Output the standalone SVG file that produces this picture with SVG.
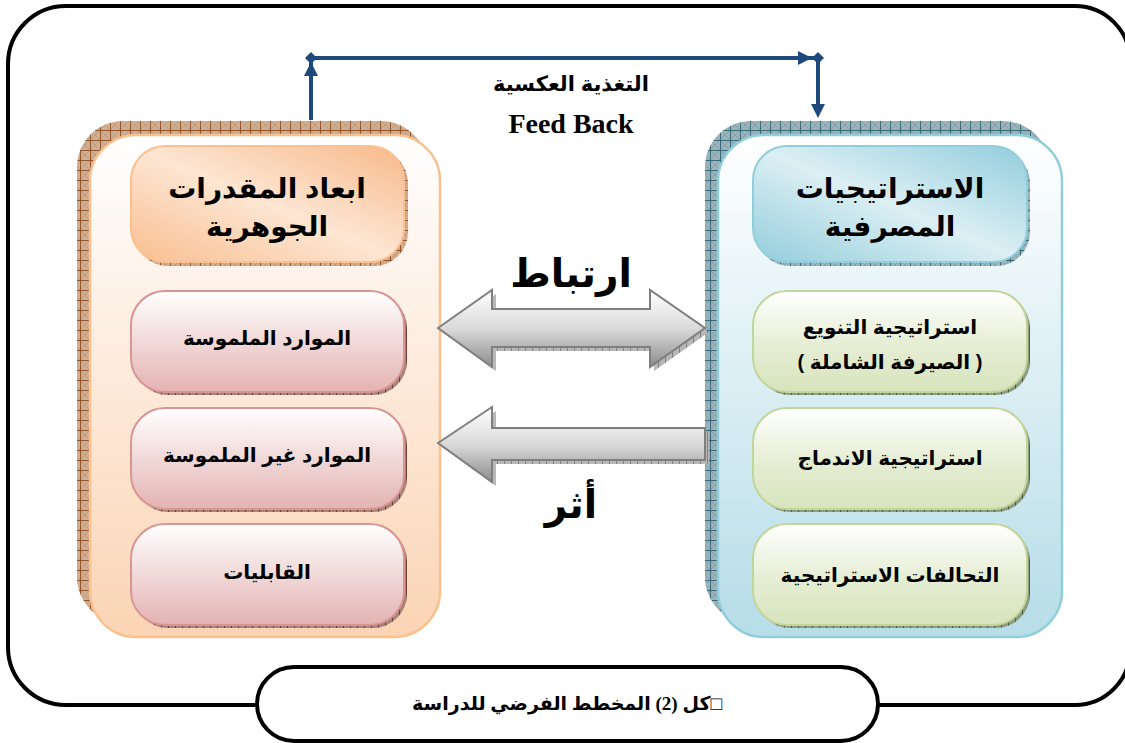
<svg xmlns="http://www.w3.org/2000/svg" width="1125" height="743" viewBox="0 0 1125 743">
  <style>
    .frame { fill: none; stroke: #000; stroke-width: 4; }
    .ar { font-family: "Liberation Sans", "DejaVu Sans", sans-serif; font-weight: bold; fill: #000; text-anchor: middle; direction: rtl; }
    .head { font-size: 28px; }
    .item { font-size: 20px; }
    .big { font-size: 39px; }
    .fb { font-size: 21px; }
    .en { font-family: "Liberation Serif", serif; font-weight: bold; font-size: 28px; text-anchor: middle; }
    .cap { font-family: "Liberation Serif", "DejaVu Sans", serif; font-weight: bold; font-size: 19px; text-anchor: middle; direction: rtl; }
    .blue { stroke: #1F497D; stroke-width: 4; fill: none; }
    .bluefill { fill: #1F497D; }
    .pink { fill: url(#gPink); stroke: #D99594; stroke-width: 2; }
    .green { fill: url(#gGreen); stroke: #C2D69B; stroke-width: 2; }
    .arrow { fill: url(#gArrow); stroke: #7F7F7F; stroke-width: 2; stroke-linejoin: miter; }
  </style>
  <defs>
    <!-- hatched shadow fills -->
    <pattern id="hatchBrown" width="10" height="10" patternUnits="userSpaceOnUse">
      <rect width="10" height="10" fill="#D0AE92"/>
      <path d="M0 0L10 10M10 0L0 10" stroke="#BA9478" stroke-width="0.7"/>
      <path d="M0 0.5H10M0.5 0V10" stroke="#93552A" stroke-width="1"/>
    </pattern>
    <pattern id="hatchBlue" width="10" height="10" patternUnits="userSpaceOnUse">
      <rect width="10" height="10" fill="#9BB3BA"/>
      <path d="M0 0L10 10M10 0L0 10" stroke="#7D99A1" stroke-width="0.7"/>
      <path d="M0 0.5H10M0.5 0V10" stroke="#3A6977" stroke-width="1"/>
    </pattern>
    <pattern id="hatchPink" width="7" height="7" patternUnits="userSpaceOnUse">
      <rect width="7" height="7" fill="#A98278"/>
      <path d="M0.5 0V7" stroke="#6B4036" stroke-width="1"/>
    </pattern>
    <pattern id="hatchGreen" width="7" height="7" patternUnits="userSpaceOnUse">
      <rect width="7" height="7" fill="#8D9B80"/>
      <path d="M0.5 0V7" stroke="#4E5E44" stroke-width="1"/>
    </pattern>
    <pattern id="hatchGray" width="7" height="7" patternUnits="userSpaceOnUse">
      <rect width="7" height="7" fill="#B8B8B8"/>
      <path d="M0.5 0V7" stroke="#808080" stroke-width="1"/>
    </pattern>
    <linearGradient id="gPeach" x1="0" y1="0" x2="0" y2="1">
      <stop offset="0" stop-color="#FFFFFF"/>
      <stop offset="1" stop-color="#FBD4B4"/>
    </linearGradient>
    <linearGradient id="gSky" x1="0" y1="0" x2="0" y2="1">
      <stop offset="0" stop-color="#FFFFFF"/>
      <stop offset="1" stop-color="#B6DDE8"/>
    </linearGradient>
    <linearGradient id="gOrange" x1="0" y1="1" x2="1" y2="0">
      <stop offset="0" stop-color="#F9BE8F"/>
      <stop offset="0.5" stop-color="#FDE6D3"/>
      <stop offset="1" stop-color="#F7B98A"/>
    </linearGradient>
    <linearGradient id="gTeal" x1="0" y1="1" x2="1" y2="0">
      <stop offset="0" stop-color="#92CDDC"/>
      <stop offset="0.5" stop-color="#DCEFF4"/>
      <stop offset="1" stop-color="#92CDDC"/>
    </linearGradient>
    <linearGradient id="gPink" x1="0" y1="0" x2="0" y2="1">
      <stop offset="0" stop-color="#FFFFFF"/>
      <stop offset="1" stop-color="#E3B3B2"/>
    </linearGradient>
    <linearGradient id="gGreen" x1="0" y1="0" x2="0" y2="1">
      <stop offset="0" stop-color="#FFFFFF"/>
      <stop offset="0.55" stop-color="#E5EDD3"/>
      <stop offset="1" stop-color="#D7E4BD"/>
    </linearGradient>
    <linearGradient id="gArrow" x1="0" y1="0" x2="0" y2="1">
      <stop offset="0" stop-color="#FFFFFF"/>
      <stop offset="0.5" stop-color="#DADADA"/>
      <stop offset="1" stop-color="#8C8C8C"/>
    </linearGradient>
  </defs>

  <!-- outer frame, joined to the caption capsule -->
  <path class="frame" d="M257 705 H66 A58 58 0 0 1 8 647 V64 A58 58 0 0 1 66 6 H1075 A55 55 0 0 1 1130 61 V650 A55 55 0 0 1 1075 705 H878"/>

  <!-- left panel -->
  <g id="capabilities-panel">
    <rect x="77" y="121" width="350" height="502" rx="46" fill="url(#hatchBrown)"/>
    <rect x="90" y="135" width="350" height="502" rx="46" fill="url(#gPeach)" stroke="#FAC090" stroke-width="2.5"/>
  </g>
  <g id="capabilities-header">
    <rect x="134" y="149" width="274" height="117" rx="34" fill="url(#hatchBrown)"/>
    <rect x="131" y="146" width="273" height="116" rx="34" fill="url(#gOrange)" stroke="#FAC090" stroke-width="2"/>
    <text class="ar head" x="267" y="198">ابعاد المقدرات</text>
    <text class="ar head" x="267" y="236">الجوهرية</text>
  </g>
  <g id="tangible">
    <rect x="134" y="294" width="273" height="101" rx="34" fill="url(#hatchPink)"/>
    <rect x="131" y="291" width="273" height="101" rx="34" class="pink"/>
    <text class="ar item" x="267" y="345">الموارد الملموسة</text>
  </g>
  <g id="intangible">
    <rect x="134" y="411" width="273" height="101" rx="34" fill="url(#hatchPink)"/>
    <rect x="131" y="408" width="273" height="101" rx="34" class="pink"/>
    <text class="ar item" x="267" y="462">الموارد غير الملموسة</text>
  </g>
  <g id="abilities">
    <rect x="134" y="527" width="273" height="101" rx="34" fill="url(#hatchPink)"/>
    <rect x="131" y="524" width="273" height="101" rx="34" class="pink"/>
    <text class="ar item" x="267" y="579">القابليات</text>
  </g>

  <!-- right panel -->
  <g id="strategies-panel">
    <rect x="705" y="121" width="344" height="502" rx="46" fill="url(#hatchBlue)"/>
    <rect x="718" y="135" width="344" height="502" rx="46" fill="url(#gSky)" stroke="#92CDDC" stroke-width="2.5"/>
  </g>
  <g id="strategies-header">
    <rect x="756" y="149" width="274" height="117" rx="34" fill="url(#hatchBlue)"/>
    <rect x="753" y="146" width="274" height="116" rx="34" fill="url(#gTeal)" stroke="#92CDDC" stroke-width="2"/>
    <text class="ar head" x="890" y="198">الاستراتيجيات</text>
    <text class="ar head" x="890" y="236">المصرفية</text>
  </g>
  <g id="diversification">
    <rect x="756" y="294" width="274" height="101" rx="34" fill="url(#hatchGreen)"/>
    <rect x="753" y="291" width="274" height="101" rx="34" class="green"/>
    <text class="ar item" x="890" y="334">استراتيجية التنويع</text>
    <text class="ar item" x="890" y="369">( الصيرفة الشاملة )</text>
  </g>
  <g id="merger">
    <rect x="756" y="411" width="274" height="101" rx="34" fill="url(#hatchGreen)"/>
    <rect x="753" y="408" width="274" height="101" rx="34" class="green"/>
    <text class="ar item" x="890" y="465">استراتيجية الاندماج</text>
  </g>
  <g id="alliances">
    <rect x="756" y="527" width="274" height="101" rx="34" fill="url(#hatchGreen)"/>
    <rect x="753" y="524" width="274" height="101" rx="34" class="green"/>
    <text class="ar item" x="890" y="582">التحالفات الاستراتيجية</text>
  </g>

  <!-- caption -->
  <g id="caption">
    <rect x="257" y="667" width="621" height="74" rx="37" fill="#FFFFFF" stroke="#000" stroke-width="4"/>
    <text class="cap" x="567" y="710">□كل (2) المخطط الفرضي للدراسة</text>
  </g>

  <!-- connectors -->
  <g id="connectors">
    <!-- feedback loop -->
    <path class="blue" d="M311 120 V58 H818 V106"/>
    <polygon class="bluefill" points="311,62 304,76 318,76"/>
    <polygon class="bluefill" points="311,52 317,58 311,64 305,58"/>
    <polygon class="bluefill" points="812,58 798,51 798,65"/>
    <polygon class="bluefill" points="818,52 824,58 818,64 812,58"/>
    <polygon class="bluefill" points="818,118 811,104 825,104"/>
    <!-- correlation (double arrow) -->
    <polygon fill="url(#hatchGray)" points="442,332 496,294 496,313 654,313 654,294 709,332 654,371 654,351 496,351 496,371"/>
    <polygon class="arrow" points="438,328 492,290 492,309 650,309 650,290 705,328 650,367 650,347 492,347 492,367"/>
    <!-- impact (single arrow) -->
    <polygon fill="url(#hatchGray)" points="442,447 496,411 496,432 709,432 709,464 496,464 496,486"/>
    <polygon class="arrow" points="438,443 492,407 492,428 705,428 705,460 492,460 492,482"/>
  </g>

  <!-- connector labels -->
  <text class="ar fb" x="571" y="91">التغذية العكسية</text>
  <text class="en" x="571" y="133">Feed Back</text>
  <text class="ar big" x="571" y="287">ارتباط</text>
  <text class="ar big" x="571" y="518">أثر</text>
</svg>
